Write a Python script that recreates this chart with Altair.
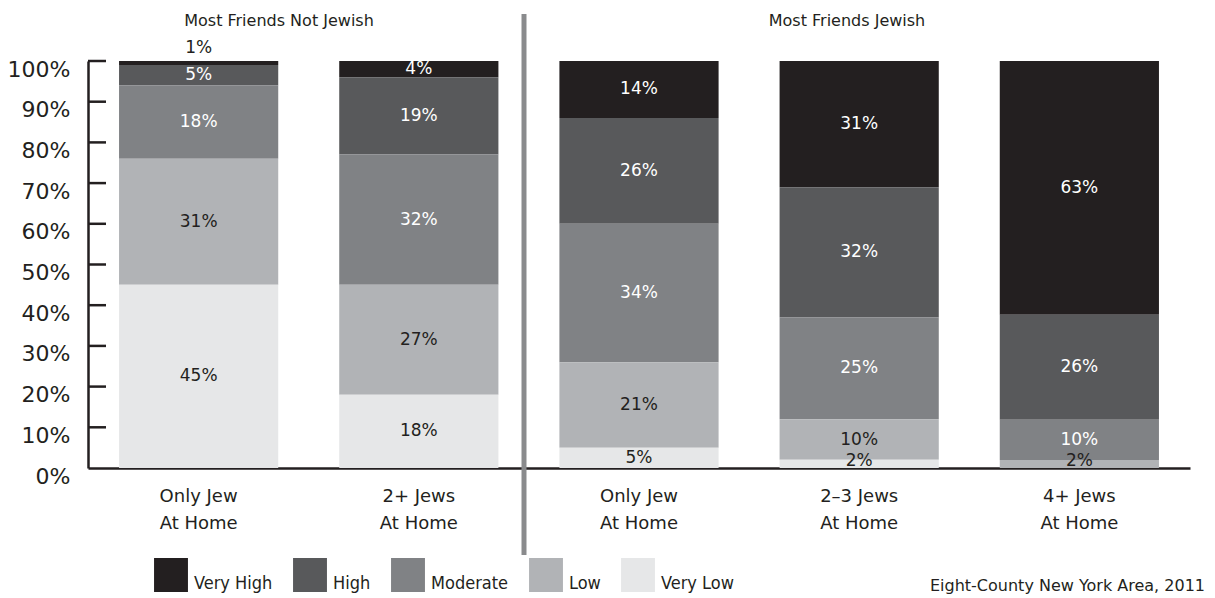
import altair as alt
import pandas as pd

# ---- data -------------------------------------------------------------
categories = ["Only Jew|At Home", "2+ Jews|At Home", "Only Jew|At Home",
              "2–3 Jews|At Home", "4+ Jews|At Home"]
groups = ["Most Friends Not Jewish", "Most Friends Not Jewish",
          "Most Friends Jewish", "Most Friends Jewish", "Most Friends Jewish"]
levels = ["Very High", "High", "Moderate", "Low", "Very Low"]
very_high = [1, 4, 14, 31, 63]
high = [5, 19, 26, 32, 26]
moderate = [18, 32, 34, 25, 10]
low = [31, 27, 21, 10, 2]
very_low = [45, 18, 5, 2, 0]
tick_values = [0.1, 0.2, 0.3, 0.4, 0.5, 0.6, 0.7, 0.8, 0.9, 1.0]
axis_values = [0.0, 0.1, 0.2, 0.3, 0.4, 0.5, 0.6, 0.7, 0.8, 0.9, 1.0]
caption = "Eight-County New York Area, 2011"

colors = ["#231f20", "#58595b", "#808285", "#b1b3b6", "#e6e7e8"]
DARK = "#231f20"

series = {"Very High": very_high, "High": high, "Moderate": moderate,
          "Low": low, "Very Low": very_low}
keys = [f"{i}|{c}" for i, c in enumerate(categories)]
rows = []
for i, k in enumerate(keys):
    for lv in levels:
        v = series[lv][i]
        if v > 0:
            rows.append({"key": k, "group": groups[i], "level": lv,
                         "ord": 4 - levels.index(lv), "value": v})
df = pd.DataFrame(rows)

xscale = alt.Scale(domain=keys, paddingInner=0.277, paddingOuter=0.141)
yscale = alt.Scale(domain=[0, 1])

bars = alt.Chart(df).mark_bar().encode(
    x=alt.X("key:N", scale=xscale, sort=keys, title=None,
            axis=alt.Axis(labelExpr="slice(split(datum.value, '|'), 1)",
                          labelFont="DejaVu Sans", labelFontSize=18,
                          labelColor=DARK, labelLineHeight=27,
                          labelBaseline="top", labelPadding=19,
                          labelAngle=0, ticks=False, tickSize=0,
                          domainColor=DARK, domainWidth=2.5)),
    y=alt.Y("value:Q", stack="normalize", scale=yscale, title=None,
            axis=alt.Axis(values=axis_values, format=".0%", grid=False,
                          ticks=False, tickSize=0, labelFont="DejaVu Sans",
                          labelFontSize=22, labelColor=DARK, labelPadding=18,
                          labelOffset=8, domainColor=DARK, domainWidth=2.5)),
    color=alt.Color("level:N", scale=alt.Scale(domain=levels, range=colors),
                    legend=alt.Legend(orient="none", legendX=66, legendY=497,
                                      direction="horizontal", columns=5,
                                      title=None, symbolType="square",
                                      symbolSize=1150, symbolStrokeWidth=0,
                                      symbolOpacity=1,
                                      labelFont="DejaVu Sans Condensed",
                                      labelFontSize=18, labelColor=DARK,
                                      labelOffset=6, labelBaseline="top",
                                      columnPadding=20, padding=0)),
    order=alt.Order("ord:Q", sort="ascending"),
)

labels = alt.Chart(df).transform_stack(
    stack="value", groupby=["key"], as_=["y0", "y1"], offset="normalize",
    sort=[alt.SortField("ord", order="ascending")]
).transform_calculate(
    mid="datum.value < 2 ? datum.y1 + 0.032 : (datum.value <= 2 ? (datum.y0 + datum.y1) / 2 + 0.008 : (datum.y0 + datum.y1) / 2)",
    dark="datum.level == 'Low' || datum.level == 'Very Low' || datum.value < 2 ? 1 : 0",
    txt="datum.value + '%'",
).mark_text(font="DejaVu Sans", fontSize=17, baseline="middle").encode(
    x=alt.X("key:N", scale=xscale, sort=keys, title=None),
    y=alt.Y("mid:Q", scale=yscale, title=None),
    text="txt:N",
    color=alt.condition("datum.dark == 1", alt.value(DARK), alt.value("#ffffff")),
)

ticks = alt.Chart(pd.DataFrame({"t": tick_values})).mark_rule(
    color=DARK, strokeWidth=2.5).encode(
    x=alt.value(0), x2=alt.value(18),
    y=alt.Y("t:Q", scale=yscale, title=None),
)

one = pd.DataFrame({"a": [0]})
divider = alt.Chart(one).mark_rule(color="#8a8b8d", strokeWidth=5).encode(
    x=alt.value(436), y=alt.value(-47), y2=alt.value(494))

head1 = alt.Chart(one).mark_text(font="DejaVu Sans", fontSize=16, color=DARK,
                                 align="center", baseline="middle").encode(
    x=alt.value(191), y=alt.value(-40), text=alt.value(groups[0]))
head2 = alt.Chart(one).mark_text(font="DejaVu Sans", fontSize=16, color=DARK,
                                 align="center", baseline="middle").encode(
    x=alt.value(759), y=alt.value(-40), text=alt.value(groups[2]))
cap = alt.Chart(one).mark_text(font="DejaVu Sans", fontSize=16, color=DARK,
                               align="right", baseline="alphabetic").encode(
    x=alt.value(1117), y=alt.value(530), text=alt.value(caption))

chart = alt.layer(bars, labels, ticks, divider, head1, head2, cap).properties(
    width=1102, height=407,
    autosize=alt.AutoSizeParams(type="none"),
    padding={"left": 80, "top": 53, "right": 17, "bottom": 130},
).configure_view(stroke=None)

chart.save("out.html", embed_options={"renderer": "svg", "actions": False})
